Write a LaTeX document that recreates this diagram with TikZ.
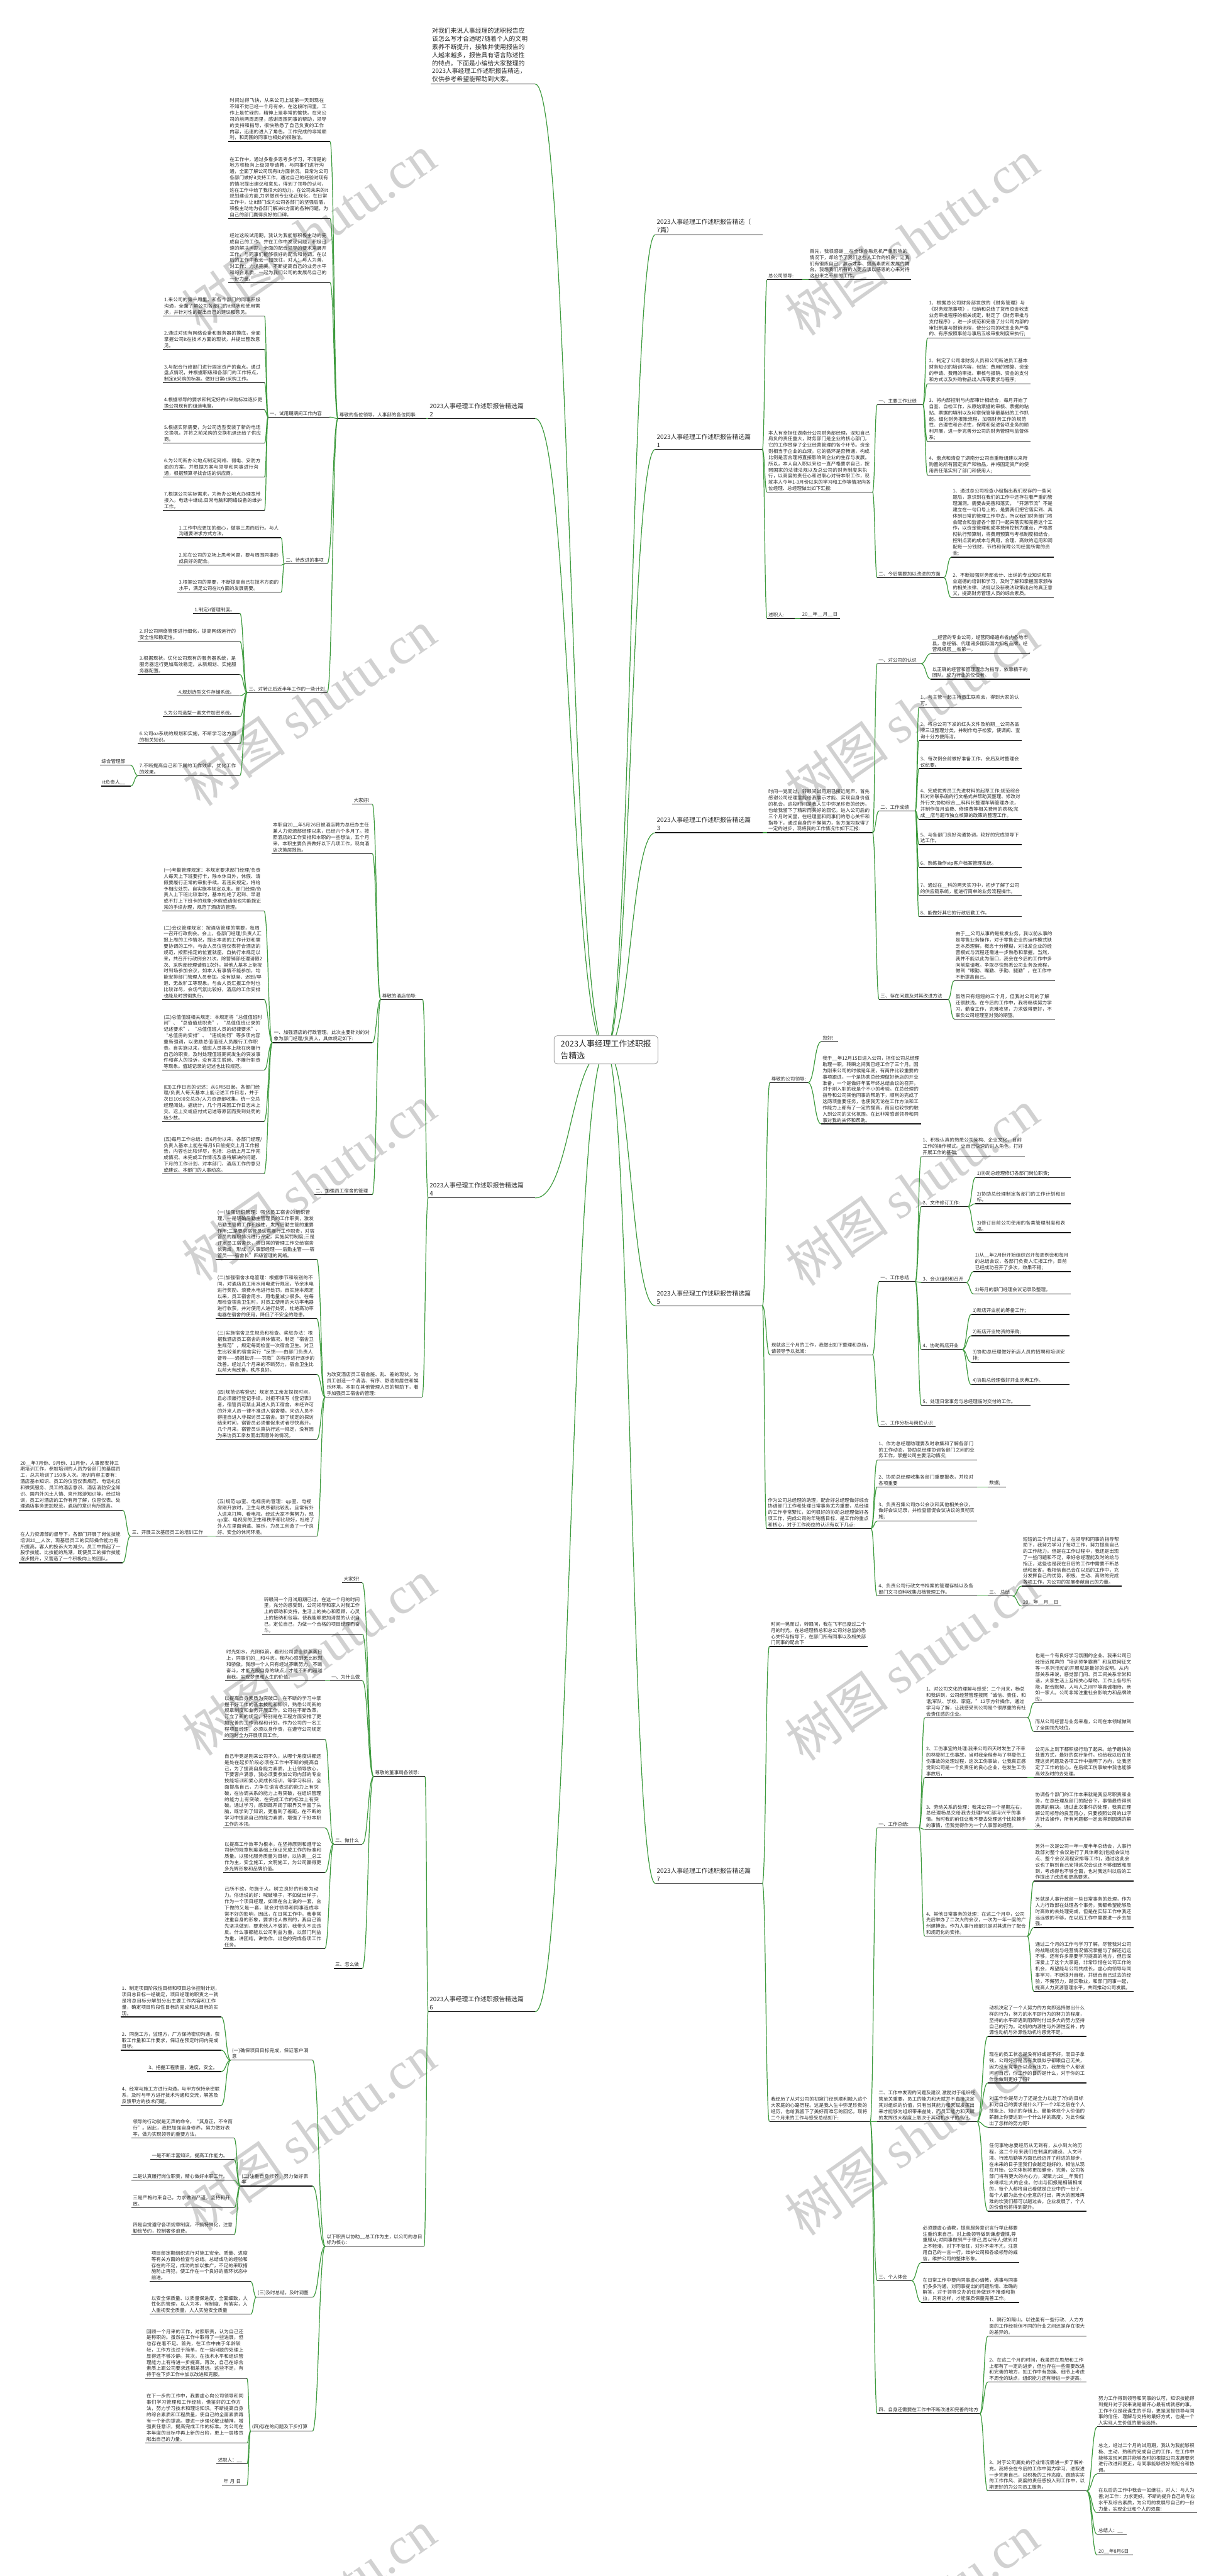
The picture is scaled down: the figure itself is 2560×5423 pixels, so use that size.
\documentclass[tikz,border=0pt]{standalone}
\usepackage{fontspec}
\setmainfont{Noto Sans CJK SC}
\newfontfamily\wmlat{Liberation Serif}
\usetikzlibrary{calc}
\XeTeXlinebreaklocale "zh"
\XeTeXlinebreakskip=0pt plus 1pt
\definecolor{lg}{RGB}{62,155,62}
\definecolor{ink}{RGB}{40,40,40}
\definecolor{ulc}{RGB}{25,25,25}
\newcommand\bk{\_\_}
\tikzset{
 leaf/.style={inner xsep=3pt,inner ysep=3pt,align=left,font=\fontsize{10}{13}\selectfont,text=ink},
 ttl/.style={inner xsep=3pt,inner ysep=4pt,align=left,font=\fontsize{13}{17}\selectfont,text=ink},
 ulin/.style={draw=ulc,line width=1.6pt},
 con/.style={draw=lg,line width=1.6pt},
 wm/.style={text=black!18,rotate=35,font=\fontsize{110}{110}\selectfont,inner sep=0pt}
}
\newcommand\mkR[5]{\pgfmathsetmacro\tw{#4-6}\node[leaf,anchor=south west,text width=\tw pt] (#1) at (#2,#3) {#5};\draw[ulin] (#1.south west)--(#1.south east);}
\newcommand\mkL[5]{\pgfmathsetmacro\tw{#4-6}\node[leaf,anchor=south east,text width=\tw pt] (#1) at (#2,#3) {#5};\draw[ulin] (#1.south west)--(#1.south east);}
\newcommand\ttR[5]{\pgfmathsetmacro\tw{#4-6}\node[ttl,anchor=south west,text width=\tw pt] (#1) at (#2,#3) {#5};\draw[ulin] (#1.south west)--(#1.south east);}
\newcommand\ttL[5]{\pgfmathsetmacro\tw{#4-6}\node[ttl,anchor=south east,text width=\tw pt] (#1) at (#2,#3) {#5};\draw[ulin] (#1.south west)--(#1.south east);}
\newcommand\edR[2]{\draw[con] let \p1=(#1.south east),\p2=(#2.south west) in (\p1) .. controls ({(\x1+\x2)/2},\y1) and ({(\x1+\x2)/2},\y2) .. (\p2);}
\newcommand\edL[2]{\draw[con] let \p1=(#1.south west),\p2=(#2.south east) in (\p1) .. controls ({(\x1+\x2)/2},\y1) and ({(\x1+\x2)/2},\y2) .. (\p2);}
\newcommand\rtR[1]{\draw[con] let \p1=(rc),\p2=(#1.south west) in (\p1) .. controls ({(\x1+\x2)/2},\y1) and ({(\x1+\x2)/2},\y2) .. (\p2);}
\newcommand\rtL[1]{\draw[con] let \p1=(rc),\p2=(#1.south east) in (\p1) .. controls ({(\x1+\x2)/2},\y1) and ({(\x1+\x2)/2},\y2) .. (\p2);}
\begin{document}
\begin{tikzpicture}[x=1pt,y=-1pt]
\fill[white] (0,0) rectangle (2560,5423);
\useasboundingbox (0,0) rectangle (2560,5423);
% watermarks
\foreach \yy in {490,1490,2490,3490,4490,5490}{
 \node[wm] at (650,\yy) {树图 {\wmlat shutu.cn}};
 \node[wm] at (1920,\yy+10) {树图 {\wmlat shutu.cn}};
}
\coordinate (rc) at (1276,2210);
% ================= titles
\ttL{intro}{1127}{177}{220}{对我们来说人事经理的述职报告应\\该怎么写才合适呢?随着个人的文明\\素养不断提升，接触并使用报告的\\人越来越多，报告具有语言陈述性\\的特点。下面是小编给大家整理的\\2023人事经理工作述职报告精选，\\仅供参考希望能帮助到大家。}
\ttR{t0}{1380}{494}{225}{2023人事经理工作述职报告精选（\\7篇）}
\ttR{t1}{1380}{946}{225}{2023人事经理工作述职报告精选篇\\1}
\ttR{t3}{1380}{1753}{225}{2023人事经理工作述职报告精选篇\\3}
\ttR{t5}{1380}{2749}{225}{2023人事经理工作述职报告精选篇\\5}
\ttR{t7}{1380}{3965}{225}{2023人事经理工作述职报告精选篇\\7}
\ttL{t2}{1127}{881}{225}{2023人事经理工作述职报告精选篇\\2}
\ttL{t4}{1127}{2522}{225}{2023人事经理工作述职报告精选篇\\4}
\ttL{t6}{1127}{4235}{225}{2023人事经理工作述职报告精选篇\\6}
% ================= branch 1
\mkR{a1}{1615}{589}{74}{总公司领导:}
\mkR{a11}{1702}{589}{216}{首先，我很感谢\bk 在全球金融危机严重影响的情况下，却给予了我们这些人工作的机会，让我们有锻炼自己、展示才华、提高素质和发展的舞台。我想我们所有的人更应该以感恩的心来对待这份来之不易的工作。}
\mkR{a2}{1615}{1036}{222}{本人有幸担任湖南分公司财务部经理，深知自己肩负的责任重大，财务部门是企业的核心部门，它的工作贯穿了企业经营管理的各个环节。资金则相当于企业的血液，它的循环是否畅通，构成比例是否合理将直接影响到企业的生存与发展。所以，本人自入职以来也一直严格要求自己，按照国家的法律法规以及总公司的财务制度来执行，以高度的责任心和进取心对待本职工作，现就本人今年1-3月份以来的学习和工作等情况向各位经理、总经理做出如下汇报:}
\mkR{a21}{1847}{852}{96}{一、主要工作业绩}
\mkR{a211}{1953}{712}{216}{1、根据总公司财务部发放的《财务管理》与《财务规范事项》，归纳和总结了货币资金收支业务审批程序的相关规定，制定了《财务审批与支付程序》，进一步规范和完善了分公司内部的审批制度与报销流程，使分公司的收支业务严格的、有序按照事前与事后五级审批制度来执行;}
\mkR{a212}{1953}{808}{216}{2、制定了公司非财务人员和公司新进员工基本财务知识的培训内容，包括：费用的预算、资金的申请、费用的审批、审核与报销、资金的支付和方式以及外购物品出入库等要求与程序;}
\mkR{a213}{1953}{930}{216}{3、将内部控制与内部审计相结合，每月开始了自查、自检工作，从原始票据的审核、票据的粘贴、票据的填制以及印章保管等最基础的工作抓起，细化财务报账流程，加强财务工作的规范性、合理性和合法性，保障和促进各项业务的顺利开展，进一步完善分公司的财务管理与监督体系;}
\mkR{a214}{1953}{1000}{216}{4、盘点和清查了湖南分公司自重新组建以来所购置的所有固定资产和物品，并将固定资产的使用责任落实到了部门和使用人;}
\mkR{a22}{1847}{1216}{140}{二、今后需要加以改进的方面}
\mkR{a221}{2003}{1173}{216}{1、通过总公司检查小组指出我们现存的一些问题后，意识到在我们的工作中还存在着严重的管理漏洞。需要去完善和落实，“开源节流”不是建立在一句口号上的，是要我们把它落实到、具体到日常的管理工作中去，所以我们财务部门将会配合和监督各个部门一起来落实和完善这个工作，以资金管理和成本费用控制为重点，严格贯彻执行预算制，将费用预算与考核制度相结合，控制点滴的成本与费用，合理、高效的运用和调配每一分钱财，节约和保障公司经营所需的资金;}
\mkR{a222}{2003}{1258}{216}{2、不断加强财务部会计、出纳的专业知识和职业道德的培训和学习，及时了解和掌握国家颁布的相关法律、法规以及新税法政策出台的真正意义，提高财务管理人员的综合素质。}
\mkR{a3}{1615}{1302}{58}{述职人:}
\mkR{a31}{1686}{1302}{82}{20\bk 年\bk 月\bk 日}
\edR{t1}{a1}\edR{t1}{a2}\edR{t1}{a3}\edR{a1}{a11}\edR{a3}{a31}
\edR{a2}{a21}\edR{a2}{a22}
\edR{a21}{a211}\edR{a21}{a212}\edR{a21}{a213}\edR{a21}{a214}
\edR{a22}{a221}\edR{a22}{a222}
% ================= branch 3
\mkR{c1}{1615}{1753}{222}{时间一晃而过，转眼间试用期已接近尾声，首先感谢公司经理室能给我展示才能、实现自身价值的机会，这段时间是我人生中弥足珍贵的经历，也给我留下了精彩而美好的回忆。进入公司后的三个月时间里，在经理室和同事们的悉心关怀和指导下，通过自身的不懈努力，各方面均取得了一定的进步，现将我的工作情况作如下汇报:}
\mkR{c11}{1847}{1397}{92}{一、对公司的认识}
\mkR{c111}{1960}{1376}{208}{\bk 经营的专业公司，经营网络遍布省内各地市县，总经销、代理诸多国际国内知名品牌，经营规模居\bk 省第一。}
\mkR{c112}{1960}{1430}{208}{以正确的经营和管理理念为指导，依靠精干的团队，成为行业的佼佼者。}
\mkR{c12}{1851}{1707}{76}{二、工作成绩}
\mkR{c121}{1935}{1489}{216}{1、与主管一起主持员工联欢会，得到大家的认可。}
\mkR{c122}{1935}{1559}{216}{2、将总公司下发的红头文件及前期\bk 公司各品牌三证整理分类，并制作电子检索，使调阅、查询十分方便简洁。}
\mkR{c123}{1935}{1618}{216}{3、每次例会前做好准备工作，会后及时整理会议纪要。}
\mkR{c124}{1935}{1725}{216}{4、完成优秀员工先进材料的起草工作;规范综合科对外联系函的行文格式并帮助其整理、修改对外行文;协助综合\bk 科科长整理车辆管理办法，并制作每月油费、修理费等相关费用的表格;完成\bk 店与超市独立核算的政策的整理工作。}
\mkR{c125}{1935}{1778}{216}{5、与各部门良好沟通协调，较好的完成领导下达工作。}
\mkR{c126}{1935}{1826}{216}{6、熟练操作vip客户档案管理系统。}
\mkR{c127}{1935}{1885}{216}{7、通过在\bk 科的两天实习中，初步了解了公司的供应链系统，能进行简单的业务流程操作。}
\mkR{c128}{1935}{1930}{216}{8、能做好其它的行政后勤工作。}
\mkR{c13}{1851}{2104}{145}{三、存在问题及对其改进方法}
\mkR{c131}{2009}{2065}{212}{由于\bk 公司从事的是批发业务，我以前从事的是零售业务操作，对于零售企业的运作模式缺乏本质理解，概念十分模糊，对批发企业的经营模式与流程还需进一步熟悉和掌握。当然，我并不能以此为借口，我会在今后的工作中多向前辈请教。争取尽快熟悉公司业务及流程，做到“眼勤、嘴勤、手勤、腿勤”，在工作中不断提高自己。}
\mkR{c132}{2009}{2145}{212}{虽然只有短短的三个月，但我对公司的了解还很肤浅。在今后的工作中，我将继续努力学习，勤奋工作，克难攻坚，力求做得更好，不辜负公司经理室对我的期望。}
\edR{t3}{c1}\edR{c1}{c11}\edR{c1}{c12}\edR{c1}{c13}
\edR{c11}{c111}\edR{c11}{c112}
\foreach \k in {1,...,8}{\edR{c12}{c12\k}}
\edR{c13}{c131}\edR{c13}{c132}
% ================= branch 5
\mkR{e1}{1621}{2279}{80}{尊敬的公司领导:}
\mkR{e11}{1729}{2193}{36}{您好!}
\mkR{e12}{1729}{2366}{210}{我于\bk 年12月15日进入公司，担任公司总经理助理一职，转瞬之间我已经工作了三个月。因为刚来公司的时候是年底，有两件比较重要的事项跟进，一个是协助总经理做好新店的开业准备，一个是做好年底年终总结会议的召开，对于刚入职的我是个不小的考验。在总经理的指导和公司其他同事的帮助下，顺利的完成了这两项重要任务，也使我无论在工作方法和工作能力上都有了一定的提高，而且也较快的融入到公司的文化氛围。在此非常感谢领导和同事对我的关怀和帮助。}
\mkR{e2}{1621}{2852}{216}{现就这三个月的工作，我做出如下整理和总结，请领导予以批阅:}
\mkR{e21}{1851}{2698}{76}{一、工作总结}
\mkR{e211}{1940}{2435}{218}{1、积极认真的熟悉公司架构、企业文化、目前工作的操作模式。让自己快速的进入角色，打好开展工作的基础;}
\mkR{e212}{1940}{2540}{98}{2、文件修订工作:}
\mkR{e2121}{2054}{2479}{200}{1)协助总经理修订各部门岗位职责;}
\mkR{e2122}{2054}{2534}{200}{2)协助总经理制定各部门的工作计划和目标。}
\mkR{e2123}{2054}{2595}{200}{3)修订目前公司使用的各类管理制度和表格。}
\mkR{e213}{1940}{2700}{94}{3、会议组织和召开}
\mkR{e2131}{2050}{2677}{204}{1)从\bk 年2月份开始组织召开每周例会和每月的总结会议，各部门负责人汇报工作，目前已经成功召开了多次，效果不错;}
\mkR{e2132}{2050}{2724}{204}{2)每月的部门经理会议记录及整理。}
\mkR{e214}{1940}{2841}{86}{4、协助新店开业}
\mkR{e2141}{2045}{2767}{206}{1)新店开业前的筹备工作;}
\mkR{e2142}{2045}{2812}{206}{2)新店开业物资的采购;}
\mkR{e2143}{2045}{2868}{206}{3)协助总经理做好新店人员的招聘和培训安排;}
\mkR{e2144}{2045}{2915}{206}{4)协助总经理做好开业庆典工作。}
\mkR{e215}{1940}{2958}{230}{5、处理日常事务与总经理临时交付的工作。}
\mkR{e22}{1851}{3003}{118}{二、工作分析与岗位认识}
\mkR{e3}{1614}{3218}{220}{作为公司总经理的助理，配合好总经理做好综合协调部门工作和处理日常事务尤为重要，总经理的工作非常繁忙，如何很好的协助总经理做好各项工作，完成公司的年销售目标，是工作的重点和核心，对于工作岗位的认识有以下几点:}
\mkR{e31}{1847}{3074}{210}{1、作为总经理助理要及时收集和了解各部门的工作动态，协助总经理协调各部门之间的业务工作，掌握公司主要活动情况;}
\mkR{e32}{1847}{3130}{210}{2、协助总经理收集各部门重要报表，并校对各项重要}
\mkR{e321}{2080}{3130}{38}{数据;}
\mkR{e33}{1847}{3202}{210}{3、负责召集公司办公会议和其他相关会议，做好会议记录，并检查督促会议决议的贯彻实施;}
\mkR{e34}{1847}{3360}{210}{4、负责公司行政文书档案的管理存档以及各部门文书资料收集归档管理工作。}
\mkR{e341}{2080}{3360}{52}{三、 总结}
\mkR{e3411}{2151}{3339}{210}{短短的三个月过去了，在领导和同事的指导帮助下，我努力学习了每项工作，努力提高自己的工作能力。但是在工作过程中，我还是出现了一些问题和不足，幸好总经理能及时的给与指正，这些也是我在日后的工作中需要不断总结和反省。我相信自己会在以后的工作中，充分发挥自己的优势，积极、主动、高效的完成各项工作，为公司的发展奉献自己的力量。}
\mkR{e3412}{2151}{3381}{84}{20\bk 年\bk 月\bk 日}
\edR{t5}{e1}\edR{t5}{e2}\edR{t5}{e3}
\edR{e1}{e11}\edR{e1}{e12}
\edR{e2}{e21}\edR{e2}{e22}
\edR{e21}{e211}\edR{e21}{e212}\edR{e21}{e213}\edR{e21}{e214}\edR{e21}{e215}
\edR{e212}{e2121}\edR{e212}{e2122}\edR{e212}{e2123}
\edR{e213}{e2131}\edR{e213}{e2132}
\edR{e214}{e2141}\edR{e214}{e2142}\edR{e214}{e2143}\edR{e214}{e2144}
\edR{e3}{e31}\edR{e3}{e32}\edR{e3}{e33}\edR{e3}{e34}
\edR{e32}{e321}\edR{e34}{e341}\edR{e341}{e3411}\edR{e341}{e3412}
% ================= branch 7
\mkR{g1}{1620}{3466}{206}{时间一晃而过，转眼间，我在飞宇已度过二个月的时光。在总经理杨总和总公司刘总监的悉心关怀与指导下，在部门所有同事以及相关部门同事的配合下}
\mkR{g2}{1620}{4466}{212}{我经历了从对公司的初窥门径到顺利融入这个大家庭的心路历程。这是我人生中弥足珍贵的经历，也给我留下了美好而难忘的回忆。现将二个月来的工作与感受总结如下:}
\mkR{g21}{1847}{3848}{88}{一、工作总结:}
\mkR{g211}{1947}{3616}{216}{1、对公司文化的理解与感受：二个月来，杨总和我讲到，公司经营管理按照“诚信、责任、和谐;军队、学校、家庭，”12字方针操作，通过学习与了解，让我感受到公司是个很厚重的有社会责任感的企业。}
\mkR{g2111}{2177}{3585}{210}{也是一个有良好学习氛围的企业。我来公司已经接近尾声的“培训师争霸赛”和互联网征文等一系列活动的开展就是最好的说明。从内部关系来说，感觉部门间、员工间关系非常和谐，大家生活上互相关心帮助，工作上各尽所能，配合默契，人与人之间平等真诚相待，亲如一家人。公司非常注重社会影响力和品牌效应。}
\mkR{g2112}{2177}{3645}{210}{而从公司经营与业务来看，公司在本领域做到了全国领先地位。}
\mkR{g212}{1947}{3742}{216}{2、工伤事宜的处理:我来公司四天时发生了不幸的林登树工伤事故，当时我全程参与了林登伤工伤事故的处理过程，这次工伤事故，让我真正感觉到公司是一个负责任的良心企业，在发生工伤事故后，}
\mkR{g2121}{2177}{3742}{210}{公司从上到下都积极行动了起来。给予最快的处置方式，最好的医疗条件。也给我以后在处理这类问题及各项工作中指明了方向，让我坚定了工作的信心。在后续工伤事故中我也能够高效及时的去处理。}
\mkR{g213}{1947}{3851}{216}{3、劳动关系的处理：我来公司一个星期左右，总经理杨总交给我去处理PMC部冯兴平的事情。当时我的前任让我不要去处理这个比较棘手的事情，但我觉得作为一个人事部的经理。}
\mkR{g2131}{2177}{3851}{210}{协调各个部门的工作本来就是我应尽职责和业务，在总经理及部门的配合下，事情最终得到圆满的解决。通过此次事件的处理，我真正理解公司领导的良苦用心，只要按照公司的12字方针去操作，所有问题都一定会得到圆满的解决。}
\mkR{g214}{1947}{4076}{216}{4、其他日常事务的处理：在这二个月中，公司先后举办了二次大的会议，一次为一年一度的广州建博会。作为人事行政部只是对其进行了配合和规范化的安排。}
\mkR{g2141}{2177}{3960}{210}{另外一次是公司一年一度半年总结会，人事行政部对整个会议进行了具体筹划(包括会议地点、整个会议流程安排等工作)，通过这此会议也了解到自己安排这次会议还不够细致和周到，考虑得也不够全面，也对我这叫以后的工作提出了改进和更高要求。}
\mkR{g2142}{2177}{4058}{210}{另就是人事行政部一些日常事务的处理，作为人力行政部在处理各个事务，我都希望能够及时高效的去处理完成，但是在实际工作中我还远远做的不够，在以后工作中需要进一步去加强。}
\mkR{g2143}{2177}{4192}{210}{通过二个月的工作与学习了解，尽管我对公司的战略规划与经营情况情况掌握与了解还远远不够，还有许多需要学习提高的地方，但已深深爱上了这个大家庭，非常珍惜在公司工作的机会，希望能与公司共成长，虚心向领导与同事学习，不断提升自我，并结合自己过去的经验，不懈努力，踏实敬业，和部门同事一起，提高人力资源管理水平，共同推动公司发展。}
\mkR{g22}{1847}{4466}{210}{二、工作中发现的问题及建议 激励对于组织经营至关重要。员工的能力和天赋并不直接决定其对组织的价值，只有当其能力和天赋发挥出来才能够为组织带来益处，而员工能力和天赋的发挥很大程度上取决于其动机水平的高低。}
\mkR{g221}{2080}{4287}{208}{动机决定了一个人努力的方向即选择做出什么样的行为，努力的水平即行为的努力的程度，坚持的水平即遇到阻碍时付出多大的努力坚持自己的行为。动机的内源性与外源性互补，内源性动机与外源性动机均感觉不足。}
\mkR{g222}{2080}{4385}{208}{现在的员工状态是没有好或是不好。混日子拿钱，公司好坏是否有发展似乎都跟自己无关，因为没有竞争所以没有压力。我想每个人都该问问自己，你工作的目的是什么，对于你的工作你做到更好了吗?}
\mkR{g223}{2080}{4478}{208}{对工作你是尽力了还是全力以赴了?你的目标和对自己的要求是什么?下一个2年之后在个人技能上、知识的存储上、最能体现个人价值的薪酬上你要达到一个什么样的高度，为此你做出了怎样的努力呢?}
\mkR{g224}{2080}{4655}{208}{任何事物总要经历从无到有，从小到大的历程，这二个月来我们在制度的建设、人文环境、行政后勤等方面已经迈开了前进的脚步，在未来的日子里我们会越走越好的，相信从现在开始，公司体制将更加健全，完善，公司各部门将有更大的向心力，凝聚力;20\bk 年我们会继续壮大的企业。付出与回报是相辅相成的，每个人都将自己看做是企业中的一份子，每个人都为此全心全意的付出，再大的困难再难的坎我们都可以趟过去。企业发展了，个人的价值也将得到提升。}
\mkR{g23}{1847}{4801}{72}{三、个人体会}
\mkR{g231}{1940}{4763}{206}{必须要虚心请教，提高服务意识言行举止都要注重约束自己，对上级领导做到谦虚谨慎,尊重服从;对同事做到严于律己,宽以待人;做到对上不轻漫，对下不张狂，对外不卑不亢，注意用自己的一言一行，维护公司和各级领导的威信，维护公司的整体形象。}
\mkR{g232}{1940}{4847}{206}{在日常工作中要向同事虚心请教，遇事与同事们多多沟通，对同事提出的问题热情、准确的解答，对于领导交办的任务做到不推诿和拖拉，只有这样，才能保质保量完善工作。}
\mkR{g24}{1847}{5081}{216}{四、自身还需要在工作中不断改进和完善的地方}
\mkR{g241}{2080}{4918}{208}{1、隔行如隔山。以往虽有一些行政、人力方面的工作经验但不同的行业之间还是存在很大的差异的。}
\mkR{g242}{2080}{5015}{208}{2、在这二个月的时间，我虽然在思想和工作上都有了一定的进步，但也存在一些需要改进和完善的地方，如工作中有急躁、细节上考虑不周全的缺点，组织能力还有待进一步提高。}
\mkR{g243}{2080}{5244}{208}{3、对于公司属处的行业情况需进一步了解补充。我将会在今后的工作中努力学习、进取进一步完善自己，以积极的工作态度、踏踏实实的工作作风、高度的责任感投入到工作中，以期更好的为公司员工服务。}
\mkR{g2431}{2310}{5109}{210}{努力工作得到领导和同事的认可，知识技能得到提升对于我来说是最开心最有成就感的事。工作不仅是我谋生的手段，更是回报领导与同事的信任、理解与支持的最好方式，也是一个人实现人生价值的最佳选择。}
\mkR{g2432}{2310}{5208}{210}{总之，经过二个月的试用期，我认为我能够积极、主动、熟练的完成自己的工作，在工作中能够发现问题并能够及时的根据公司发展要求进行改进和更正，与同事能够很好的配合和协调。}
\mkR{g2433}{2310}{5290}{210}{在以后的工作中我会一如继往，对人：与人为善;对工作：力求更好。不断的提升自己的专业水平及综合素质，为公司的发展尽自己的一份力量，实现企业和个人的双赢!}
\mkR{g2434}{2310}{5335}{62}{总结人：\bk}
\mkR{g2435}{2310}{5379}{76}{20\bk 年8月6日}
\edR{t7}{g1}\edR{t7}{g2}
\edR{g2}{g21}\edR{g2}{g22}\edR{g2}{g23}\edR{g2}{g24}
\edR{g21}{g211}\edR{g21}{g212}\edR{g21}{g213}\edR{g21}{g214}
\edR{g211}{g2111}\edR{g211}{g2112}\edR{g212}{g2121}\edR{g213}{g2131}
\edR{g214}{g2141}\edR{g214}{g2142}\edR{g214}{g2143}
\edR{g22}{g221}\edR{g22}{g222}\edR{g22}{g223}\edR{g22}{g224}
\edR{g23}{g231}\edR{g23}{g232}
\edR{g24}{g241}\edR{g24}{g242}\edR{g24}{g243}
\foreach \k in {1,...,5}{\edR{g243}{g243\k}}
% ================= branch 2
\mkL{b1}{897}{881}{185}{尊敬的各位领导，人事部的各位同事:}
\mkL{b11}{695}{298}{214}{时间过得飞快，从来公司上班第一天到现在不知不觉已经一个月有余，在这段时间里，工作上是忙碌的，精神上是非常的愉快。在来公司的前两周周里，感谢周围同事的帮助，领导的支持和指导，很快熟悉了自己负责的工作内容，迅速的进入了角色。工作完成的非常顺利，和周围的同事也相处的很融洽。}
\mkL{b12}{695}{460}{214}{在工作中，通过多看多思考多学习，不清楚的地方积极向上级领导请教，与同事们进行沟通，全面了解公司现有it方面状况。日常为公司各部门做好it支持工作，通过自己的经验对现有的情况提出建议和意见，得到了领导的认可，这在工作中给了我很大的动力。在公司未来的it规划建设方面,力求做到专业化正规化，在日常工作中，让it部门成为公司各部门的坚强后盾，积极主动地为各部门解决it方面的各种问题，为自己的部门赢得良好的口碑。}
\mkL{b13}{695}{595}{214}{经过这段试用期，我认为我能够积极主动的完成自己的工作，并在工作中发现问题，积极迅速的解决问题。全面的配合领导的要求来展开工作，与同事们能够很好的配合和协调。在以后的工作中我会一如既往，对人：与人为善，对工作：力求完美。不断提高自己的业务水平和综合素质，一起为我们公司的发展尽自己的一份力量。}
\mkL{b14}{694}{878}{129}{一、试用期期间工作内容}
\mkL{b141}{557}{665}{214}{1.来公司的第一周里，和各个部门的同事积极沟通，全面了解公司各部门的it现状和使用需求，并针对性的提出自己的建议和意见。}
\mkL{b142}{557}{735}{214}{2.通过对现有网络设备和服务器的摸底，全面掌握公司it在技术方面的现状，并提出整改意见。}
\mkL{b143}{557}{806}{214}{3.与配合行政部门进行固定资产的盘点。通过盘点情况，并根据职级和各部门的工作特点，制定it采购的标准。做好日常it采购工作。}
\mkL{b144}{557}{863}{214}{4.根据领导的要求和制定好的it采购标准逐步更换公司现有的组装电脑。}
\mkL{b145}{557}{933}{214}{5.根据实际需要，为公司选型安装了新的电话交换机，并将之前采购的交换机退还给了供应商。}
\mkL{b146}{557}{1004}{214}{6.为公司新办公地点制定网络、弱电、安防方面的方案，并根据方案与领导和同事进行沟通，根据预算寻找合适的供应商。}
\mkL{b147}{557}{1074}{214}{7.根据公司实际需求，为新办公地点办理宽带接入，电话中继线.日常电脑和网络设备的维护工作。}
\mkL{b15}{689}{1187}{90}{二、待改进的事项}
\mkL{b151}{592}{1132}{218}{1.工作中应更加的细心，做事三思而后行。与人沟通要讲求方式方法。}
\mkL{b152}{592}{1190}{218}{2.站在公司的立场上思考问题，要与周围同事形成良好的配合。}
\mkL{b153}{592}{1247}{218}{3.根据公司的需要，不断提高自己在技术方面的水平，满足公司在it方面的发展需要。}
\mkL{b16}{689}{1458}{168}{三、对转正后近半年工作的一些计划}
\mkL{b161}{505}{1291}{98}{1.制定it管理制度。}
\mkL{b162}{505}{1350}{214}{2.对公司网络管理进行细化，提高网络运行的安全性和稳定性。}
\mkL{b163}{505}{1420}{214}{3.根据现状，优化公司现有的服务器系统，是服务器运行更加高效稳定。从新规划、实施服务器配置。}
\mkL{b164}{505}{1465}{132}{4.规划选型文件存储系统。}
\mkL{b165}{505}{1509}{162}{5.为公司选型一套文件加密系统。}
\mkL{b166}{505}{1566}{214}{6.公司oa系统的规划和实施，不断学习这方面的相关知识。}
\mkL{b167}{505}{1633}{214}{7.不断提高自己和下属的工作效率，优化工作的效果。}
\mkL{b1671}{275}{1611}{64}{综合管理部}
\mkL{b1672}{275}{1655}{62}{it负责人\bk}
\edL{t2}{b1}
\edL{b1}{b11}\edL{b1}{b12}\edL{b1}{b13}\edL{b1}{b14}\edL{b1}{b15}\edL{b1}{b16}
\foreach \k in {1,...,7}{\edL{b14}{b14\k}}
\foreach \k in {1,2,3}{\edL{b15}{b15\k}}
\foreach \k in {1,...,7}{\edL{b16}{b16\k}}
\edL{b167}{b1671}\edL{b167}{b1672}
% ================= branch 4
\mkL{d1}{890}{2104}{88}{尊敬的酒店领导:}
\mkL{d11}{784}{1693}{42}{大家好!}
\mkL{d12}{784}{1797}{212}{本职自20\bk 年5月26日被酒店聘为总经办主任兼人力资源部经理以来，已经六个多月了。按照酒店的工作安排和本职的一些想法，五个月来，本职主要负责做好以下几项工作，现向酒店决策层报告。}
\mkL{d13}{784}{2195}{210}{一、加强酒店的行政管理。此次主要针对的对象为部门经理/负责人，具体规定如下:}
\mkL{d131}{556}{1918}{214}{(一)考勤管理规定：本规定要求部门经理/负责人每天上下班要打卡，除本休日外，休假、请假要履行正常的审批手续。若违反规定，将给予相应处罚。自实施本规定以来，部门经理/负责人上下班比较准时，基本杜绝了迟到、早退或不打上下班卡的现象;休假或请假也均能按正常的手续办理，规范了酒店的管理。}
\mkL{d132}{556}{2104}{214}{(二)会议管理规定：按酒店管理的需要，每周一召开行政例会。会上，各部门经理/负责人汇报上周的工作情况，提出本周的工作计划和需要协调的工作。与会人员仪容仪表符合酒店的规范，按照指定的位置就座。自执行本规定以来，共召开行政例会21次，除营销部经理请假2次、采购部经理请假1次外，其他人基本上能按时到场参加会议，如本人有事情不能参加，均能安排部门管理人员参加。没有缺席、迟到/早退、无故旷工等现象。与会人员汇报工作时也比较详尽，会场气氛比较好，酒店的工作安排也能及时贯彻执行。}
\mkL{d133}{556}{2253}{214}{(三)总值值班相关规定：本规定将“总值值班时间”、“总值值班职责”、“总值值班记录的记述要求”、“总值值班人员的纪律要求”、“总值房的安排”、“违规处罚”等多项内容重新强调，以激励总值值班人员履行工作职责。自实施以来，值班人员基本上能在岗履行自己的职责，及时处理值班期间发生的突发事件和客人的投诉，没有发生脱岗、不履行职责等现象。值班记录的记述也比较规范。}
\mkL{d134}{556}{2361}{214}{(四)工作日志的记述：从6月5日起，各部门经理/负责人每天基本上能记述工作日志，并于次日10:00交总办/人力资源部收集，统一交总经理阅处。据统计，几个月来因工作日志未上交、迟上交或应付式记述等原因而受到处罚的极少数。}
\mkL{d135}{556}{2471}{214}{(五)每月工作总结：自6月份以来，各部门经理/负责人基本上能在每月5日前提交上月工作报告，内容也比较详尽，包括：总结上月工作完成情况、未完成工作情况及亟待解决的问题、下月的工作计划、对本部门、酒店工作的意见或建议、本部门的人事动态。}
\mkL{d14}{784}{2515}{122}{二、加强员工宿舍的管理}
\mkL{d2}{889}{2941}{204}{为改变酒店员工宿舍脏、乱、差的现状，为员工创造一个清洁、有序、舒适的居住和娱乐环境。本职在其他管理人员的帮助下，着手加强员工宿舍的管理:}
\mkL{d21}{667}{2651}{212}{(一)加强组织管理：强化员工宿舍的组织管理，一是明确后勤主管理员的工作职责，激发后勤主管的工作积极性，发挥后勤主管的重要作用;二是要求宿管员认真履行工作职责，对宿管员的履职情况进行评定，实施奖罚制度;三是评定员工宿舍长，将日常的管理工作交给宿舍长完成，形成“人事部经理——后勤主管——宿管员——宿舍长”四级管理的网络。}
\mkL{d22}{667}{2776}{212}{(二)加强宿舍水电管理：根据季节和级别的不同，对酒店员工用水用电进行规定，节余水电进行奖励、浪费水电进行处罚。自实施本规定以来，员工宿舍用水、用电量减少很多。在每周检查宿舍卫生时，对员工使用的大功率电器进行收获，并对使用人进行处罚，杜绝高功率电器在宿舍的使用，降低了不安全的隐患。}
\mkL{d23}{667}{2893}{212}{(三)实施宿舍卫生规范和检查、奖惩办法：根据我酒店员工宿舍的具体情况，制定“宿舍卫生规范”，规定每周检查一次宿舍卫生。对卫生比较差的宿舍实行“反馈——由部门负责人督导——通报批评——罚款”的程序进行逐步的改善。经过几个月来的不断努力，宿舍卫生比以前大有改善，秩序良好。}
\mkL{d24}{667}{3030}{212}{(四)规范访客登记：规定员工亲友探视时间，且必须履行登记手续。对拒不填写《登记表》者，宿管员可禁止其进入员工宿舍。未经许可的外来人员一律不准进入宿舍楼。来访人员不得擅自进入非探访员工宿舍。到了规定的探访结束时间，宿管员必须催促来访者尽快离开。几个月来，宿管员认真执行这一规定，没有因为来访员工亲友而出现意外的情况。}
\mkL{d25}{667}{3234}{212}{(五)规范qp室、电视房的管理：qp室、电视房刚开放时，卫生与秩序都比较乱，且常有外人进来打牌、看电视。经过大家不懈努力，现qp室、电视房的卫生和秩序都比较好，杜绝了外人在里面消遣、娱乐，为员工创造了一个良好、安全的休闲环境。}
\mkL{d251}{437}{3234}{162}{三、开展三次基层员工的培训工作}
\mkL{d2511}{258}{3179}{218}{20\bk 年7月份、9月份、11月份，人事部安排三期培训工作，参加培训的人员为各部门的基层员工，总共培训了150多人次。培训内容主要有：酒店基本知识、员工的仪容仪表规范、电话礼仪和微笑服务、员工的酒店意识、酒店消防安全知识、国内外风土人情、泉州旅游知识等。经过培训，员工对酒店的工作有所了解，仪容仪表、处理酒店事务更加规范，酒店的意识有所提高。}
\mkL{d2512}{258}{3290}{218}{在人力资源部的督导下，各部门开展了岗位技能培训20\bk 人次，现基层员工的实际操作能力有所提高，客人的投诉大为减少。员工中掀起了一股学技能、比技能的热潮，既使员工的操作技能逐步提升，又营造了一个积极向上的团队。}
\edL{t4}{d1}\edL{t4}{d2}
\edL{d1}{d11}\edL{d1}{d12}\edL{d1}{d13}\edL{d1}{d14}
\foreach \k in {1,...,5}{\edL{d13}{d13\k}}
\foreach \k in {1,...,5}{\edL{d2}{d2\k}}
\edL{d25}{d251}\edL{d251}{d2511}\edL{d251}{d2512}
% ================= branch 6
\mkL{f1}{895}{3740}{108}{尊敬的董事局各领导:}
\mkL{f11}{763}{3332}{42}{大家好!}
\mkL{f12}{763}{3440}{210}{转眼间一个月试用期已过，在这一个月的时间里，充分的感受到，公司领导和家人对我工作上的帮助和支持，生活上的关心和照顾，心灵上的接纳和包容。使我能够更加清楚的认识自己，定位自己，为做一个合格的项目经理而奋斗。}
\mkL{f13}{763}{3538}{68}{一、为什么做}
\mkL{f131}{684}{3538}{210}{时光如水，光阴似箭，看到公司营业额蒸蒸日上，同事们的\bk 和斗志，我内心感到无比欣慰和骄傲。我想一个人只有经过不断努力，不断奋斗，才能克服自身的缺点，才能不断的超越自我，实现梦想和人生的价值。}
\mkL{f14}{763}{3882}{60}{二、做什么}
\mkL{f141}{684}{3661}{214}{以提高自身素质为突破口，在不断的学习中掌握干好工作的基本技能和知识，熟悉公司新的规章制度和业务开展工作。公司在不断改革，订立了新的规定，特别是在工程方面安排了更加完善的工作流程和计划。作为公司的一名工程项目经理，必须以身作责，在遵守公司规定的同时全力开展项目工作。}
\mkL{f142}{684}{3848}{214}{自己毕竟是刚来公司不久，从哪个角度讲都还是处在起步阶段必须在工作中不断的提高自己，为了提高自身能力素质，上让领导放心，下要客户满意，我必须要参加公司内部的专业技能培训和爱心灵成长培训，等学习科目，全面提高自己，力争在语言表达的能力上有突破，在协调关系的能力上有突破，在组织管理的能力上有突破，在完成工作的标准上有突破。通过学习，感到既开阔了眼界又丰富了头脑，既学到了知识，更看到了差距，在不断的学习中提高自己的能力素质，增强了干好本职工作的本领。}
\mkL{f143}{684}{3942}{214}{以提高工作效率为根本，在坚持原则和遵守公司新的规章制度基础上保证完成工作的标准和质量。以强化服务质量为目标，以协助\bk 总工作为主，安全施工，文明施工，为公司赢得更多光辉形象和品牌价值。}
\mkL{f144}{684}{4102}{214}{己所不欲，勿施于人。树立良好的形象为动力。俗话说的好：喊破嗓子，不如做出样子，作为一个项目经理，如果在台上说的一套，台下做的又是一套，就会对领导和同事造成非常不好的影响，因此，在日常工作中，我非常注重自身的形象，要求他人做到的，我自己首先坚决做到，要求他人不做的，我带头不去违反。什么事都能以公司利益为重，以部门利益为重，讲团结，讲协作，出色的完成各项工作任务。}
\mkL{f15}{763}{4144}{60}{三、怎么做}
\mkL{f2}{893}{4729}{208}{以下职责以协助\bk 总工作为主，以公司的总目标为核心:}
\mkL{f21}{658}{4337}{172}{(一)确保项目目标完成，保证客户满意}
\mkL{f211}{466}{4246}{212}{1、制定项目阶段性目标和项目总体控制计划，项目总目标一经确定，项目经理的职责之一就是将总目标分解划分出主要工作内容和工作量，确定项目阶段性目标的完成和总目标的实现。}
\mkL{f212}{466}{4316}{212}{2、同施工方，监理方，厂方保持密切沟通，获取工作量和工作要求，保证在预定时间内完成目标。}
\mkL{f213}{466}{4361}{156}{3、把握工程质量，进度，安全。}
\mkL{f214}{466}{4432}{212}{4、经常与施工方进行沟通，与甲方保持亲密联系，及时与甲方进行技术沟通和交流，解答及反馈甲方的技术问题。}
\mkL{f22}{658}{4602}{152}{(二)注重自身修养，努力做好表率}
\mkL{f221}{493}{4501}{216}{领导的行动就是无声的命令，“其身正，不令而行”。因此，我把加强自身修养，努力做好表率，做为实现领导的重要方法。}
\mkL{f222}{493}{4546}{176}{一是不断丰富知识，提高工作能力。}
\mkL{f223}{493}{4590}{216}{二是认真履行岗位职责，精心做好本职工作。}
\mkL{f224}{493}{4648}{216}{三是严格约束自己，力求做到严谨，坚持和开放。}
\mkL{f225}{493}{4705}{216}{四是自觉遵守各项规章制度，不搞特殊化，注意勤俭节约，控制奢侈浪费。}
\mkL{f23}{658}{4836}{118}{(三)及时总结，及时调整}
\mkL{f231}{528}{4803}{212}{项目部定期组织进行对施工安全、质量、进度等有关方面的检查与总结。总结成功的经验和存在的不足，成功的加以推广，不足的采取措施防止再犯，使工作在一个良好的循环状态中前进。}
\mkL{f232}{528}{4872}{212}{以安全保质量、以质量保进度，全面细致，人性化的管理，以人为本，有制度、有落实，人人重视安全质量，人人实施安全质量}
\mkL{f24}{658}{5118}{130}{(四)存在的问题及下步打算}
\mkL{f241}{520}{5007}{214}{回顾一个月来的工作，对照职责，认为自己还是称职的。虽然在工作中取得了一些进展，但也存在着不足。首先，在工作中由于年龄较轻，工作方法过于简单，在一些问题的处理上显得还不够冷静。其次，在技术水平和组织管理能力上有待进一步提高。再次，自己在综合素质上距公司要求还相差甚远。这些不足，有待于在下步工作中加以改进和克服。}
\mkL{f242}{520}{5143}{214}{在下一步的工作中，我要虚心向公司领导和同事们学习管理和工作经验，借鉴好的工作方法，努力学习技术和理论知识。不断提高自身的综合素质和工程质量，使自己的全面素质再有一个新的提高。要进一步强化敬业精神，增强责任意识，提高完成工作的标准。为公司在本年度的目标中再上新的台阶，更上一层楼贡献出自己的力量。}
\mkL{f243}{520}{5187}{64}{述职人：\bk}
\mkL{f244}{520}{5232}{52}{年 月 日}
\edL{t6}{f1}\edL{t6}{f2}
\foreach \k in {1,...,5}{\edL{f1}{f1\k}}
\edL{f13}{f131}
\foreach \k in {1,...,4}{\edL{f14}{f14\k}}
\foreach \k in {1,...,4}{\edL{f2}{f2\k}}
\foreach \k in {1,...,4}{\edL{f21}{f21\k}}
\foreach \k in {1,...,5}{\edL{f22}{f22\k}}
\edL{f23}{f231}\edL{f23}{f232}
\foreach \k in {1,...,4}{\edL{f24}{f24\k}}
% ================= root
\rtL{intro}\rtL{t2}\rtL{t4}\rtL{t6}
\rtR{t0}\rtR{t1}\rtR{t3}\rtR{t5}\rtR{t7}
\node[draw=black!45,line width=1pt,rounded corners=8pt,fill=white,inner xsep=14pt,inner ysep=10pt,align=left,font=\fontsize{17}{24}\selectfont,text=ink] (root) at (rc) {2023人事经理工作述职报\\告精选};
\end{tikzpicture}
\end{document}
